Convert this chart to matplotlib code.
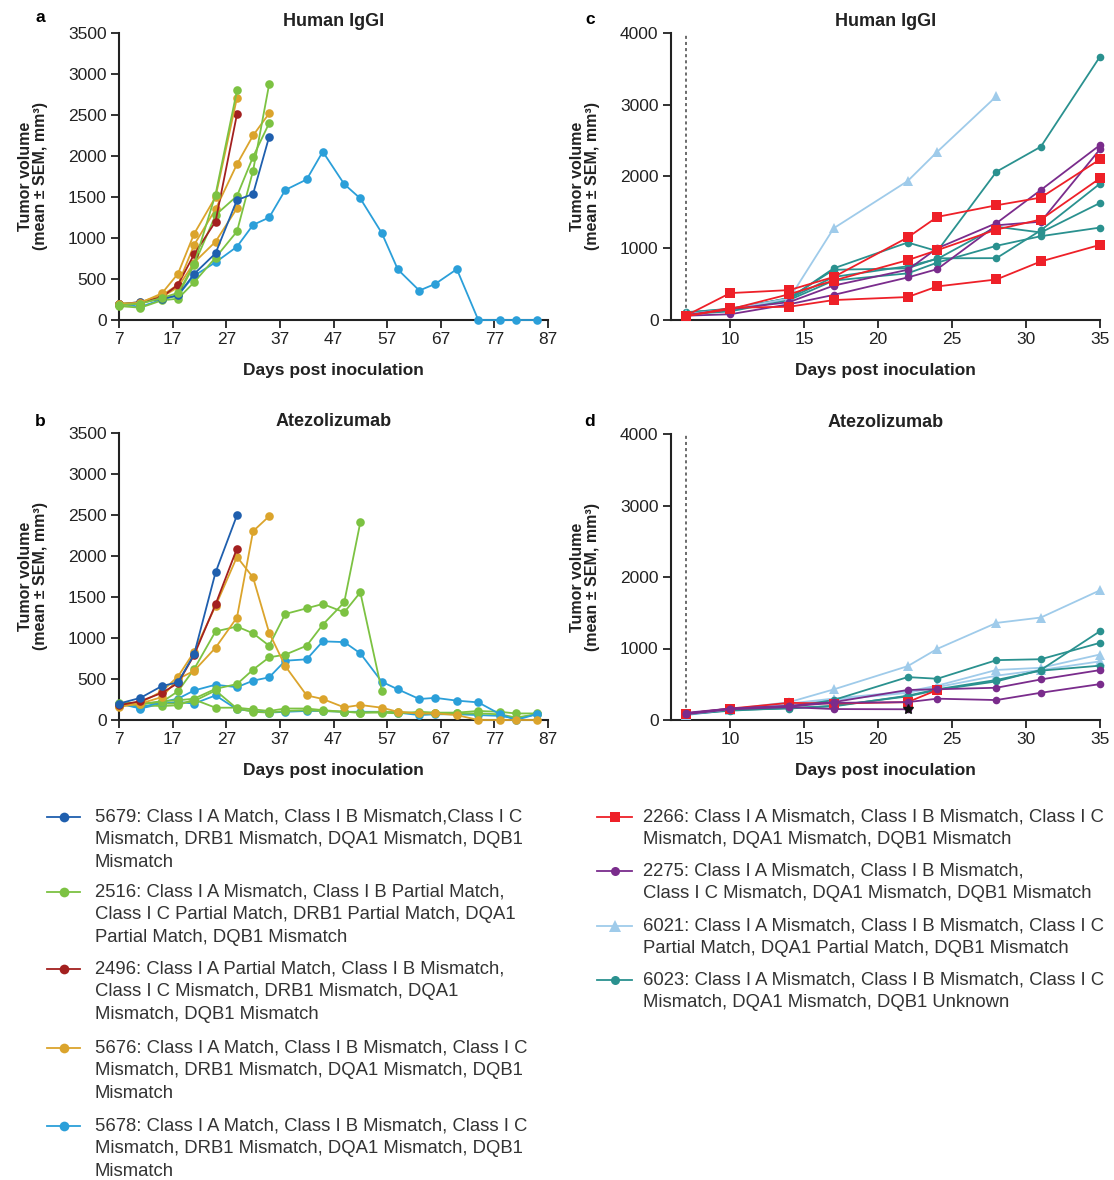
import matplotlib
matplotlib.use('Agg')
import matplotlib.pyplot as plt
from matplotlib.lines import Line2D

plt.rcParams['font.family'] = ['Liberation Sans', 'DejaVu Sans']

# ---------------- data ----------------
days_ab = [7, 11, 15, 18, 21, 25, 29, 32, 35, 38, 42, 45, 49, 52, 56, 59, 63, 66, 70, 74, 78, 81, 85]
days_cd = [7, 10, 14, 17, 22, 24, 28, 31, 35]

# Panel a (Human IgGI), individual mice
a_5679_1 = [190, 220, 260, 300, 561, 813, 1463, 1537, 2235]
a_2516_1 = [180, 200, 270, 330, 680, 1530, 2800]
a_2516_2 = [170, 150, 240, 260, 460, 760, 1080, 1820, 2875]
a_2516_3 = [200, 210, 260, 300, 671, 1280, 1512, 1990, 2400]
a_2496_1 = [190, 210, 280, 430, 800, 1200, 2510]
a_5676_1 = [200, 210, 325, 565, 1050, 1500, 2710]
a_5676_2 = [190, 220, 300, 430, 915, 1350, 1900, 2250, 2520]
a_5676_3 = [180, 200, 280, 400, 700, 955, 1362]
a_5678_1 = [200, 160, 250, 300, 540, 703, 894, 1160, 1250, 1585, 1714, 2053, 1657, 1482,
            1061, 616, 359, 441, 620, 0, 0, 0, 0]

# Panel b (Atezolizumab), individual mice
b_5679_1 = [200, 270, 414, 460, 800, 1799, 2497]
b_2496_1 = [180, 230, 330, 450, 790, 1410, 2091]
b_5676_1 = [170, 210, 350, 530, 830, 1390, 1990, 1738, 1064, 658, 300, 256, 154, 183, 150,
            100, 80, 80, 60, 0, 0, 0, 0]
b_5676_2 = [160, 200, 280, 500, 600, 881, 1250, 2302, 2485]
b_2516_1 = [170, 200, 220, 350, 620, 1080, 1140, 1057, 906, 1293, 1362, 1415, 1313, 1557, 358]
b_2516_2 = [200, 190, 230, 240, 260, 380, 438, 614, 764, 797, 906, 1163, 1435, 2410]
b_2516_3 = [190, 180, 170, 180, 250, 150, 150, 130, 110, 140, 140, 120, 100, 90, 90, 80, 100,
            90, 90, 110, 100, 80, 80]
b_2516_4 = [210, 210, 200, 200, 230, 360, 140, 100, 90, 110, 120, 110, 100, 90, 100, 100, 80,
            80, 80, 80, 70, 30, 70]
b_5678_1 = [200, 150, 220, 260, 360, 430, 400, 480, 520, 723, 740, 959, 950, 813, 467, 374,
            256, 270, 236, 215, 73, 0, 73]
b_5678_2 = [200, 140, 200, 220, 200, 300, 130, 110, 90, 100, 110, 110, 100, 100, 100, 90, 60,
            70, 70, 60, 50, 20, 70]

# Panel c (Human IgGI)
c_2266_1 = [60, 375, 417, 600, 1150, 1437, 1599, 1706, 2239]
c_2266_2 = [50, 170, 185, 278, 320, 468, 565, 816, 1047]
c_2266_3 = [60, 150, 360, 550, 834, 973, 1261, 1400, 1975]
c_2275_1 = [60, 80, 220, 350, 593, 709, 1320, 1370, 2380]
c_2275_2 = [70, 150, 250, 480, 700, 1000, 1350, 1812, 2438]
c_6021_1 = [80, 150, 300, 1279, 1937, 2345, 3119]
c_6023_1 = [110, 150, 300, 720, 1080, 960, 2067, 2415, 3671]
c_6023_2 = [90, 140, 310, 700, 720, 860, 862, 1250, 1900]
c_6023_3 = [80, 120, 280, 550, 650, 800, 1034, 1168, 1288]
c_6023_4 = [100, 160, 300, 600, 750, 850, 1300, 1220, 1631]

# Panel d (Atezolizumab)
d_2266_1 = [90, 160, 240, 230, 250, 420]
d_2275_1 = [90, 160, 200, 250, 420, 430, 451, 567, 698]
d_2275_2 = [100, 160, 190, 240, 250, 298, 279, 381, 502]
d_2275_3 = [80, 150, 180, 153, 150]
d_6021_1 = [80, 150, 250, 428, 753, 995, 1358, 1433, 1814]
d_6021_2 = [70, 140, 230, 300, 400, 480, 700, 730, 916]
d_6021_3 = [70, 140, 220, 280, 380, 460, 620, 700, 820]
d_6023_1 = [90, 150, 180, 280, 600, 577, 837, 850, 1079]
d_6023_2 = [80, 140, 160, 200, 330, 420, 540, 700, 1242]
d_6023_3 = [80, 130, 170, 190, 340, 430, 560, 690, 760]
d_star_day = [22]
d_star_val = [150]

# legend labels (line-broken as in the figure)
lab_5679 = ["5679: Class I A Match, Class I B Mismatch,Class I C",
            "Mismatch, DRB1 Mismatch, DQA1 Mismatch, DQB1", "Mismatch"]
lab_2516 = ["2516: Class I A Mismatch, Class I B Partial Match,",
            "Class I C Partial Match, DRB1 Partial Match, DQA1", "Partial Match, DQB1 Mismatch"]
lab_2496 = ["2496: Class I A Partial Match, Class I B Mismatch,",
            "Class I C Mismatch, DRB1 Mismatch, DQA1", "Mismatch, DQB1 Mismatch"]
lab_5676 = ["5676: Class I A Match, Class I B Mismatch, Class I C",
            "Mismatch, DRB1 Mismatch, DQA1 Mismatch, DQB1", "Mismatch"]
lab_5678 = ["5678: Class I A Match, Class I B Mismatch, Class I C",
            "Mismatch, DRB1 Mismatch, DQA1 Mismatch, DQB1", "Mismatch"]
lab_2266 = ["2266: Class I A Mismatch, Class I B Mismatch, Class I C",
            "Mismatch, DQA1 Mismatch, DQB1 Mismatch"]
lab_2275 = ["2275: Class I A Mismatch, Class I B Mismatch,",
            "Class I C Mismatch, DQA1 Mismatch, DQB1 Mismatch"]
lab_6021 = ["6021: Class I A Mismatch, Class I B Mismatch, Class I C",
            "Partial Match, DQA1 Partial Match, DQB1 Mismatch"]
lab_6023 = ["6023: Class I A Mismatch, Class I B Mismatch, Class I C",
            "Mismatch, DQA1 Mismatch, DQB1 Unknown"]

# ---------------- styles ----------------
col = {'5679': '#1f5fae', '2516': '#7cc242', '2496': '#a3201f', '5676': '#dba42c',
       '5678': '#2b9fd9', '2266': '#ee2028', '2275': '#7a2c8c', '6021': '#9fcbea',
       '6023': '#2a918f'}
mk = {'5679': 'o', '2516': 'o', '2496': 'o', '5676': 'o', '5678': 'o',
      '2266': 's', '2275': 'o', '6021': '^', '6023': 'o'}
ms_ab = 6.2
ms_cd = {'2266': 6.8, '2275': 5.5, '6021': 7.2, '6023': 5.5}

W, H = 1114, 1180
fig = plt.figure(figsize=(W / 100, H / 100), dpi=100)


def rect(l, t, r, b):
    return [l / W, 1 - b / H, (r - l) / W, (b - t) / H]


def style(ax, xlim, ylim, xticks, yticks):
    ax.set_xlim(xlim)
    ax.set_ylim(ylim)
    ax.set_xticks(xticks)
    ax.set_yticks(yticks)
    for s in ['top', 'right']:
        ax.spines[s].set_visible(False)
    for s in ['left', 'bottom']:
        ax.spines[s].set_linewidth(1.5)
        ax.spines[s].set_color('#222222')
    ax.tick_params(direction='out', length=6, width=1.3, labelsize=12.5, pad=3,
                   colors='#222222')
    ax.set_xlabel('Days post inoculation', fontsize=12.5, fontweight='bold', labelpad=11,
                  color='#222222')
    ax.set_ylabel('Tumor volume\n(mean \u00b1 SEM, mm\u00b3)', fontsize=11.5, fontweight='bold',
                  linespacing=1.05, color='#222222')
    ax.yaxis.set_label_coords(-0.165, 0.5)


def plot_ab(ax, key, vals):
    ax.plot(days_ab[:len(vals)], vals, color=col[key], marker=mk[key], ms=ms_ab, mew=0,
            lw=1.3, clip_on=False, zorder=3)


def plot_cd(ax, key, vals):
    ax.plot(days_cd[:len(vals)], vals, color=col[key], marker=mk[key], ms=ms_cd[key], mew=0,
            lw=1.3, clip_on=False, zorder=3)


# ---------------- panel a ----------------
axA = fig.add_axes(rect(119, 33, 548, 320))
plot_ab(axA, '5678', a_5678_1)
plot_ab(axA, '5676', a_5676_3)
plot_ab(axA, '5676', a_5676_2)
plot_ab(axA, '2516', a_2516_3)
plot_ab(axA, '2516', a_2516_2)
plot_ab(axA, '5679', a_5679_1)
plot_ab(axA, '2496', a_2496_1)
plot_ab(axA, '5676', a_5676_1)
plot_ab(axA, '2516', a_2516_1)
style(axA, (7, 87), (0, 3500), list(range(7, 88, 10)), list(range(0, 3501, 500)))
axA.set_title('Human IgGI', fontsize=13, fontweight='bold', pad=5, color='#222222')

# ---------------- panel b ----------------
axB = fig.add_axes(rect(119, 433, 548, 720))
plot_ab(axB, '5678', b_5678_2)
plot_ab(axB, '2516', b_2516_4)
plot_ab(axB, '2516', b_2516_3)
plot_ab(axB, '5678', b_5678_1)
plot_ab(axB, '2516', b_2516_2)
plot_ab(axB, '2516', b_2516_1)
plot_ab(axB, '5676', b_5676_2)
plot_ab(axB, '5676', b_5676_1)
plot_ab(axB, '2496', b_2496_1)
plot_ab(axB, '5679', b_5679_1)
style(axB, (7, 87), (0, 3500), list(range(7, 88, 10)), list(range(0, 3501, 500)))
axB.set_title('Atezolizumab', fontsize=13, fontweight='bold', pad=5, color='#222222')

# ---------------- panel c ----------------
axC = fig.add_axes(rect(671, 33, 1100, 320))
axC.axvline(days_cd[0], color='#444444', lw=1.1, ls=(0, (2, 2)), zorder=1)
for key, v in [('6023', c_6023_3), ('6023', c_6023_2), ('6023', c_6023_4), ('6023', c_6023_1),
               ('6021', c_6021_1), ('2275', c_2275_1), ('2275', c_2275_2),
               ('2266', c_2266_2), ('2266', c_2266_3), ('2266', c_2266_1)]:
    plot_cd(axC, key, v)
style(axC, (6, 35), (0, 4000), list(range(10, 36, 5)), list(range(0, 4001, 1000)))
axC.set_title('Human IgGI', fontsize=13, fontweight='bold', pad=5, color='#222222')

# ---------------- panel d ----------------
axD = fig.add_axes(rect(671, 434, 1100, 720))
axD.axvline(days_cd[0], color='#444444', lw=1.1, ls=(0, (2, 2)), zorder=1)
for key, v in [('6021', d_6021_3), ('6021', d_6021_2), ('6023', d_6023_3), ('6023', d_6023_2),
               ('6023', d_6023_1), ('6021', d_6021_1), ('2266', d_2266_1),
               ('2275', d_2275_3), ('2275', d_2275_2), ('2275', d_2275_1)]:
    plot_cd(axD, key, v)
axD.plot(d_star_day, d_star_val, marker='*', color='#111111', ms=7, ls='none', zorder=4)
style(axD, (6, 35), (0, 4000), list(range(10, 36, 5)), list(range(0, 4001, 1000)))
axD.set_title('Atezolizumab', fontsize=13, fontweight='bold', pad=5, color='#222222')

# ---------------- panel letters ----------------
for s, x, y in [('a', 40, 18), ('b', 40, 422), ('c', 590, 20), ('d', 590, 422)]:
    fig.text(x / W, 1 - y / H, s, fontsize=12.5, fontweight='bold', ha='center', va='center')


# ---------------- legends ----------------
def legend_item(key, lines, x0, x1, xt, y, ms, dy):
    fy = 1 - y / H
    fig.add_artist(Line2D([x0 / W, x1 / W], [fy, fy], color=col[key], lw=1.3,
                          transform=fig.transFigure))
    fig.add_artist(Line2D([(x0 + x1) / 2 / W], [fy], color=col[key], marker=mk[key], ms=ms,
                          mew=0, transform=fig.transFigure))
    for i, s in enumerate(lines):
        fig.text(xt / W, 1 - (y + i * dy) / H, s, fontsize=13.3, color='#333333',
                 ha='left', va='center')


left_items = [('5679', lab_5679, 817), ('2516', lab_2516, 892), ('2496', lab_2496, 969),
              ('5676', lab_5676, 1048), ('5678', lab_5678, 1126)]
for key, lines, y in left_items:
    legend_item(key, lines, 47, 80, 95, y, 7, 22.8)

right_items = [('2266', lab_2266, 817), ('2275', lab_2275, 871), ('6021', lab_6021, 926),
               ('6023', lab_6023, 980)]
for key, lines, y in right_items:
    legend_item(key, lines, 597, 632, 643, y, ms_cd[key] + 1, 22.8)

fig.savefig('out.png', dpi=100)
